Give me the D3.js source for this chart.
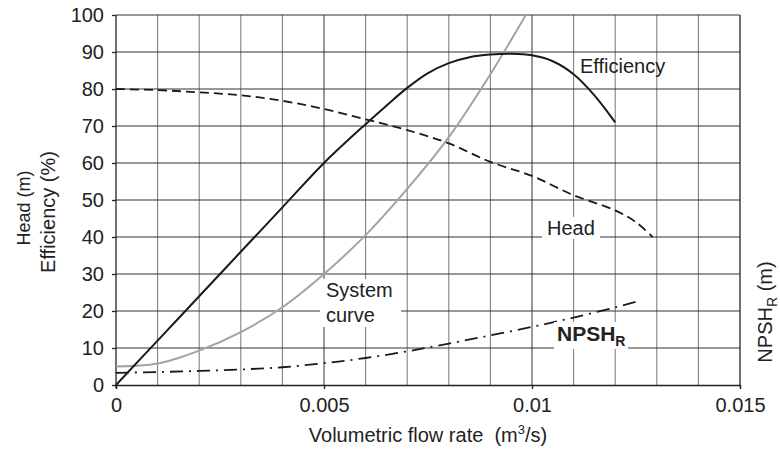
<!DOCTYPE html>
<html>
<head>
<meta charset="utf-8">
<script src="https://cdn.jsdelivr.net/npm/d3@7"></script>
<style>
body{margin:0;background:#fff;}
svg{display:block;font-family:"Liberation Sans",Arial,Helvetica,sans-serif;}
</style>
</head>
<body>
<svg id="chart" width="780" height="451"></svg>
<script>
// ---- data ----
const xTicks = [0, 0.005, 0.01, 0.015];
const xTickLabels = ["0", "0.005", "0.01", "0.015"];
const yTicks = [0, 10, 20, 30, 40, 50, 60, 70, 80, 90, 100];

const effQ = [0, 0.001, 0.002, 0.003, 0.004, 0.005, 0.006, 0.0065, 0.007, 0.0075, 0.008, 0.0085, 0.009, 0.0095, 0.01, 0.0105, 0.011, 0.0115, 0.012];
const effV = [0, 12, 24, 36, 48, 60, 70.5, 75.5, 80.3, 84.3, 87, 88.6, 89.3, 89.5, 89.1, 87.5, 84, 78.3, 71];

const headQ = [0, 0.001, 0.002, 0.003, 0.004, 0.005, 0.006, 0.007, 0.008, 0.009, 0.01, 0.011, 0.012, 0.0125, 0.0129];
const headV = [80, 79.7, 79.1, 78.3, 76.8, 74.6, 71.8, 68.9, 65.3, 60.3, 56.5, 51.3, 47.2, 44, 40];

const sysQ = [0, 0.001, 0.002, 0.003, 0.004, 0.005, 0.006, 0.007, 0.008, 0.009, 0.00985];
const sysV = [5, 5.8, 9.3, 14.3, 21, 30, 40.5, 53, 67, 84, 100];

const npshQ = [0, 0.001, 0.002, 0.003, 0.004, 0.005, 0.006, 0.007, 0.008, 0.009, 0.01, 0.011, 0.012, 0.0125];
const npshV = [3.3, 3.5, 3.8, 4.2, 4.8, 5.9, 7.3, 9.1, 11.2, 13.4, 15.7, 18.2, 21, 22.5];

// ---- layout ----
const svg = d3.select("#chart");
const L = 116, R = 740, T = 15, B = 385;
const x = d3.scaleLinear().domain([0, 0.015]).range([L, R]);
const y = d3.scaleLinear().domain([0, 100]).range([B, T]);
const FS = 20;

// grid
const vGrid = d3.range(1, 15).map(i => i / 1000);
svg.append("g").selectAll("line").data(vGrid).join("line")
  .attr("x1", d => x(d)).attr("x2", d => x(d))
  .attr("y1", T).attr("y2", B)
  .attr("stroke", d => (Math.round(d * 1000) % 5 === 0) ? "#333" : "#777")
  .attr("stroke-width", 1);
svg.append("g").selectAll("line").data(yTicks.filter(v => v > 0)).join("line")
  .attr("x1", L).attr("x2", R)
  .attr("y1", d => y(d)).attr("y2", d => y(d))
  .attr("stroke", "#333").attr("stroke-width", 1);

// frame
svg.append("line").attr("x1", R).attr("x2", R).attr("y1", T).attr("y2", B).attr("stroke", "#222").attr("stroke-width", 1.3);

// axes
const xAxis = d3.axisBottom(x).tickValues(xTicks).tickFormat((d, i) => xTickLabels[i]).tickSize(4).tickPadding(9);
const gx = svg.append("g").attr("transform", `translate(0,${B})`).call(xAxis);
gx.select(".domain").attr("stroke", "#222").attr("stroke-width", 1.3);
gx.selectAll(".tick line").attr("stroke", "#222").attr("stroke-width", 1.3);
gx.selectAll("text").attr("font-size", FS).attr("fill", "#222").attr("font-family", "inherit");

const yAxis = d3.axisLeft(y).tickValues(yTicks).tickSize(4).tickPadding(8);
const gy = svg.append("g").attr("transform", `translate(${L},0)`).call(yAxis);
gy.select(".domain").attr("stroke", "#222").attr("stroke-width", 1.3).attr("d", `M0,${T}V${B + 3}`);
gy.selectAll(".tick line").attr("stroke", "#222").attr("stroke-width", 1.3);
gy.selectAll("text").attr("font-size", FS).attr("fill", "#222").attr("font-family", "inherit");

// curves
const line = d3.line().x(d => x(d[0])).y(d => y(d[1])).curve(d3.curveCatmullRom.alpha(0.5));
const zip = (a, b) => a.map((v, i) => [v, b[i]]);

svg.append("path").datum(zip(sysQ, sysV)).attr("d", line)
  .attr("fill", "none").attr("stroke", "#a3a3a3").attr("stroke-width", 2);
svg.append("path").datum(zip(headQ, headV)).attr("d", line)
  .attr("fill", "none").attr("stroke", "#1a1a1a").attr("stroke-width", 1.8).attr("stroke-dasharray", "9,5");
svg.append("path").datum(zip(npshQ, npshV)).attr("d", line)
  .attr("fill", "none").attr("stroke", "#1a1a1a").attr("stroke-width", 1.8).attr("stroke-dasharray", "13,6,2,6");
svg.append("path").datum(zip(effQ, effV)).attr("d", line)
  .attr("fill", "none").attr("stroke", "#1a1a1a").attr("stroke-width", 2);

// labels with white boxes
function boxLabel(lines, tx, ty, lh, box, bold) {
  svg.append("rect").attr("x", box[0]).attr("y", box[1]).attr("width", box[2]).attr("height", box[3]).attr("fill", "#fff");
  const t = svg.append("text").attr("x", tx).attr("y", ty).attr("font-size", FS).attr("fill", "#222");
  if (bold) t.attr("font-weight", "bold");
  lines.forEach((s, i) => t.append("tspan").attr("x", tx).attr("y", ty + i * lh).text(s));
  return t;
}
svg.append("text").attr("x", 580).attr("y", 73).attr("font-size", FS).attr("fill", "#222").text("Efficiency");
boxLabel(["Head"], 547, 235, 0, [542, 217, 58, 22]);
boxLabel(["System", "curve"], 326, 297, 25, [320, 279, 81, 48]);

svg.append("rect").attr("x", 554).attr("y", 322).attr("width", 74).attr("height", 27).attr("fill", "#fff");
const np = svg.append("text").attr("x", 557).attr("y", 341).attr("font-size", FS + 1).attr("font-weight", "bold").attr("fill", "#222");
np.append("tspan").text("NPSH");
np.append("tspan").attr("dy", 5).attr("font-size", 14).text("R");

// axis titles
svg.append("text").attr("x", (L + R) / 2).attr("y", 442).attr("text-anchor", "middle").attr("font-size", FS).attr("fill", "#222")
  .call(t => {
    t.append("tspan").text("Volumetric flow rate\u00a0\u00a0(m");
    t.append("tspan").attr("dy", -8).attr("font-size", 13).text("3");
    t.append("tspan").attr("dy", 8).text("/s)");
  });

svg.append("text").attr("transform", `translate(30,208) rotate(-90)`).attr("text-anchor", "middle").attr("font-size", 18).attr("fill", "#222").text("Head (m)");
svg.append("text").attr("transform", `translate(55,212) rotate(-90)`).attr("text-anchor", "middle").attr("font-size", FS).attr("fill", "#222").text("Efficiency (%)");

svg.append("text").attr("transform", `translate(772,312) rotate(-90)`).attr("text-anchor", "middle").attr("font-size", FS).attr("fill", "#222")
  .call(t => {
    t.append("tspan").text("NPSH");
    t.append("tspan").attr("dy", 5).attr("font-size", 14).text("R");
    t.append("tspan").attr("dy", -5).text(" (m)");
  });
</script>
</body>
</html>
